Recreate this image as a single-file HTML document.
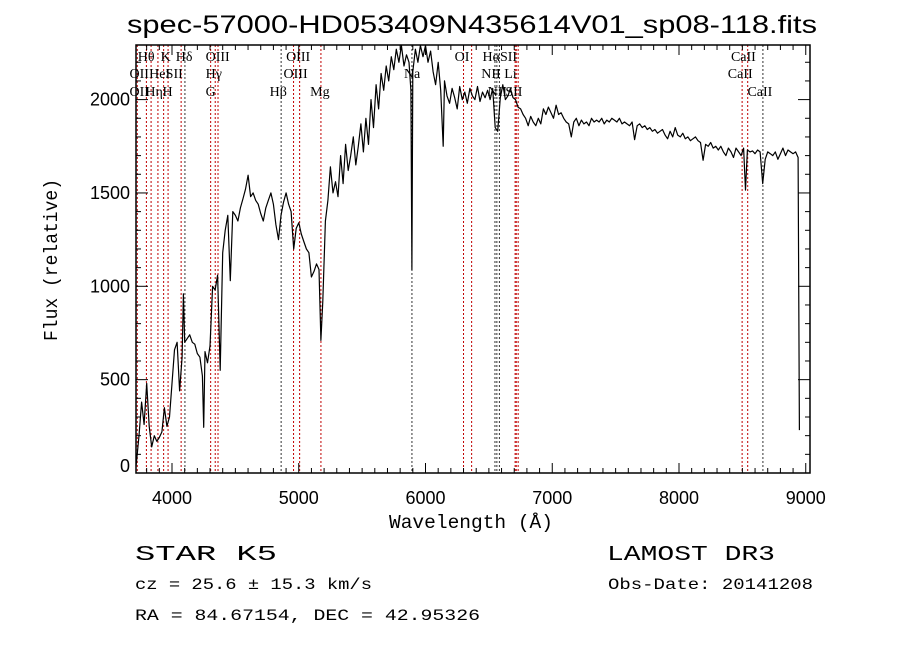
<!DOCTYPE html>
<html><head><meta charset="utf-8"><style>
html,body{margin:0;padding:0;background:#fff;}
svg{display:block;}
</style></head><body>
<svg id="chart" width="900" height="649" xmlns="http://www.w3.org/2000/svg" font-family="Liberation Sans, sans-serif">
<rect width="900" height="649" fill="#fff"/>
<text x="472" y="33" font-size="25" text-anchor="middle" textLength="690" lengthAdjust="spacingAndGlyphs">spec-57000-HD053409N435614V01_sp08-118.fits</text>
<g id="lines"></g>
<g id="linelabels" font-family="Liberation Serif, serif" font-size="14"></g>
<g id="spectrum"></g>
<g id="axes"></g>
<text x="471" y="528" font-family="Liberation Mono, monospace" font-size="19" text-anchor="middle" textLength="164" lengthAdjust="spacingAndGlyphs">Wavelength (Å)</text>
<text transform="translate(57,260) rotate(-90)" font-family="Liberation Mono, monospace" font-size="19" text-anchor="middle" textLength="162" lengthAdjust="spacingAndGlyphs">Flux (relative)</text>
<g font-family="Liberation Mono, monospace">
<text x="135" y="560" font-size="21" textLength="142" lengthAdjust="spacingAndGlyphs">STAR   K5</text>
<text x="607" y="560" font-size="21" textLength="168" lengthAdjust="spacingAndGlyphs">LAMOST DR3</text>
<text x="135" y="589" font-size="16" textLength="237" lengthAdjust="spacingAndGlyphs">cz = 25.6 ± 15.3 km/s</text>
<text x="608" y="589" font-size="16" textLength="205" lengthAdjust="spacingAndGlyphs">Obs-Date: 20141208</text>
<text x="135" y="620" font-size="16" textLength="345" lengthAdjust="spacingAndGlyphs">RA =  84.67154, DEC =  42.95326</text>
</g>
</svg>
<script>
const wavelengths=[3716,3720,3740,3760,3780,3800,3820,3840,3860,3880,3900,3920,3940,3960,3980,4000,4020,4040,4060,4080,4090,4100,4120,4140,4160,4180,4200,4220,4240,4250,4260,4280,4300,4320,4340,4360,4380,4400,4420,4440,4460,4480,4500,4520,4540,4560,4580,4600,4620,4640,4660,4680,4700,4720,4740,4760,4780,4800,4820,4840,4860,4880,4900,4920,4940,4960,4980,5000,5020,5040,5060,5080,5100,5120,5140,5160,5175,5190,5210,5230,5250,5270,5290,5310,5330,5350,5370,5390,5410,5430,5450,5470,5490,5510,5530,5550,5570,5590,5610,5630,5650,5670,5690,5710,5730,5750,5770,5790,5810,5830,5850,5870,5885,5893,5900,5920,5940,5960,5980,6000,6020,6040,6060,6080,6100,6120,6140,6150,6170,6190,6210,6230,6250,6270,6290,6310,6330,6350,6370,6390,6410,6430,6450,6470,6490,6510,6530,6550,6570,6590,6610,6630,6650,6670,6690,6710,6730,6750,6770,6790,6810,6830,6850,6870,6890,6910,6930,6950,6970,6990,7010,7030,7050,7070,7090,7110,7130,7150,7170,7190,7210,7230,7250,7270,7290,7310,7330,7350,7370,7390,7410,7430,7450,7470,7490,7510,7530,7550,7570,7590,7610,7630,7650,7670,7690,7710,7730,7750,7770,7790,7810,7830,7850,7870,7890,7910,7930,7950,7970,7990,8010,8030,8050,8070,8090,8110,8130,8150,8170,8190,8210,8230,8250,8270,8290,8310,8330,8350,8370,8390,8410,8430,8450,8470,8490,8510,8525,8540,8560,8580,8600,8620,8640,8660,8680,8700,8720,8740,8760,8780,8800,8820,8840,8860,8880,8900,8920,8940,8950];
const fluxValues=[40,60,200,380,260,480,250,140,200,170,190,220,350,250,300,480,660,700,440,620,960,700,720,740,700,690,640,620,520,245,650,590,680,1000,980,1060,550,1180,1300,1380,1030,1400,1380,1350,1420,1470,1520,1595,1480,1500,1460,1440,1390,1350,1420,1460,1500,1440,1330,1250,1380,1450,1500,1440,1400,1200,1310,1340,1280,1240,1200,1180,1050,1080,1120,1090,710,920,1350,1460,1640,1500,1560,1480,1700,1550,1760,1620,1700,1800,1650,1750,1870,1720,1900,1760,2000,1850,2080,1950,2140,2050,2180,2100,2230,2160,2270,2200,2290,2180,2240,2200,2050,1090,2150,2270,2200,2290,2230,2290,2200,2260,2150,2080,2200,2050,1750,2100,2020,1980,2060,2010,1950,2070,2000,2040,1980,2060,2020,2000,2070,1990,2040,2010,2050,2000,2060,1850,1830,2010,2080,2000,2020,2060,2010,2000,1960,1950,1920,1900,1860,1910,1880,1860,1900,1870,1950,1920,1960,1930,1900,1970,1920,1930,1900,1880,1870,1800,1880,1900,1860,1890,1870,1880,1860,1900,1880,1890,1880,1900,1870,1890,1880,1900,1890,1880,1900,1870,1880,1870,1860,1880,1785,1860,1870,1850,1860,1840,1850,1830,1840,1820,1830,1840,1810,1790,1830,1800,1850,1810,1800,1820,1790,1800,1780,1790,1800,1780,1770,1675,1760,1750,1770,1740,1750,1730,1750,1720,1700,1740,1720,1690,1740,1720,1700,1740,1515,1730,1720,1725,1710,1730,1720,1550,1680,1720,1710,1700,1720,1680,1710,1740,1700,1730,1720,1710,1720,1690,230];
const lineWaves=[3726,3798,3835,3889,3934,3969,4072,4102,4305,4341,4363,4861,4959,5007,5175,5893,6300,6364,6548,6563,6583,6707,6716,6731,8498,8542,8662];
const lineBlack=[0,0,0,0,0,0,0,1,0,0,0,1,0,0,0,1,0,0,1,1,1,0,0,0,0,0,1];
const labelTexts=["Hθ","K","Hδ","OIII","OIII","OI","HαSII","CaII","OII","HeI","SII","Hγ","OIII","Na","NII Li","CaII","OII","Hη","H","G","Hβ","Mg","NII","SII","CaII"];
const labelWaves=[3730,3910,4030,4265,4900,6230,6450,8410,3665,3820,3950,4265,4880,5830,6440,8385,3665,3790,3925,4265,4770,5090,6490,6630,8540];
const labelRows=[1,1,1,1,1,1,1,1,2,2,2,2,2,2,2,2,3,3,3,3,3,3,3,3,3];
const xTicks=[4000,5000,6000,7000,8000,9000];
const yTicks=[0,500,1000,1500,2000];

const NS="http://www.w3.org/2000/svg";
const L=136,R=810,T=45,B=473;
function xs(w){return 172+(w-4000)*0.12675;}
function ys(f){return 473-f*0.1867;}
function mk(tag,attrs,parent){const e=document.createElementNS(NS,tag);for(const k in attrs)e.setAttribute(k,attrs[k]);parent.appendChild(e);return e;}

const gl=document.getElementById('lines');
lineWaves.forEach((w,i)=>{
  const ln=mk('line',{x1:xs(w),x2:xs(w),y1:T,y2:B,stroke:lineBlack[i]?'#333':'#c00000','stroke-width':1,'stroke-dasharray':'2,2'},gl);
  
  
});
const glab=document.getElementById('linelabels');
const rowY={1:61,2:78,3:96};
labelTexts.forEach((t,i)=>{
  const tx=mk('text',{x:xs(labelWaves[i]),y:rowY[labelRows[i]]},glab);
  tx.textContent=t;
  
  
});

const gs=document.getElementById('spectrum');
let d='';
wavelengths.forEach((w,i)=>{const y=Math.max(T,Math.min(B,ys(fluxValues[i])));d+=(i?'L':'M')+xs(w).toFixed(1)+','+y.toFixed(1);});
const p=mk('path',{d:d,fill:'none',stroke:'#000','stroke-width':1.2,'stroke-linejoin':'round'},gs);



const ga=document.getElementById('axes');
const fr=mk('rect',{x:L,y:T,width:R-L,height:B-T,fill:'none',stroke:'#000','stroke-width':1.5},ga);


for(let w=3800;w<=9000;w+=100){
  const major=xTicks.includes(w);const len=major?10:5;const x=xs(w);
  mk('line',{x1:x,x2:x,y1:B,y2:B-len,stroke:'#000'},ga);
  mk('line',{x1:x,x2:x,y1:T,y2:T+len,stroke:'#000'},ga);
}
xTicks.forEach(w=>{
  const t=mk('text',{x:xs(w),y:B+31,'font-size':18,'text-anchor':'middle'},ga);
  t.textContent=w;
  
  
});
for(let f=0;f<=2200;f+=100){
  const major=yTicks.includes(f);const len=major?12:5;const y=ys(f);
  mk('line',{x1:L,x2:L+len,y1:y,y2:y,stroke:'#000'},ga);
  mk('line',{x1:R,x2:R-len,y1:y,y2:y,stroke:'#000'},ga);
}
yTicks.forEach(f=>{
  const t=mk('text',{x:L-6,y:Math.min(ys(f),466)+6,'font-size':18,'text-anchor':'end'},ga);
  t.textContent=f;
  
  
});
</script>
</body></html>
